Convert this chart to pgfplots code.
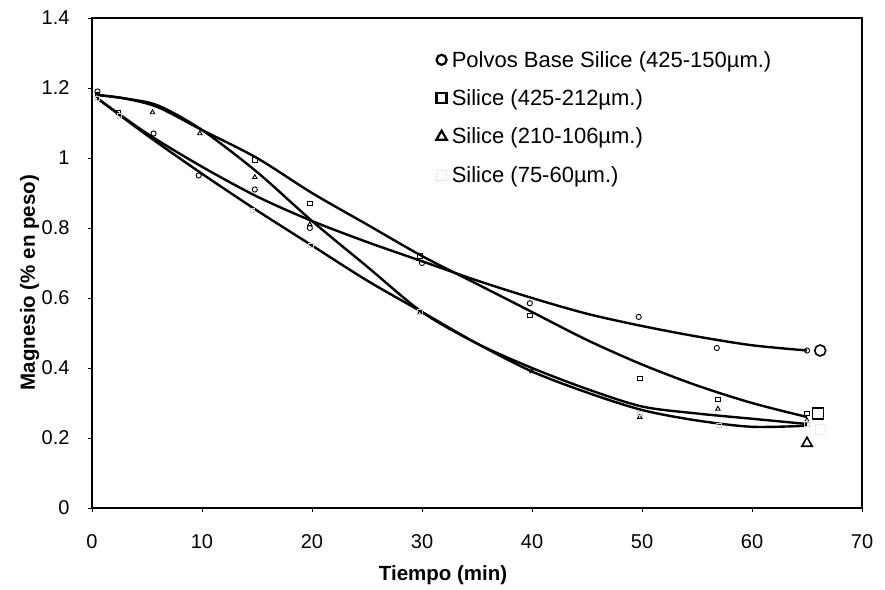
\documentclass[border=0pt]{standalone}
\usepackage{fontspec}
\setmainfont{Liberation Sans}
\usepackage{pgfplots}
\pgfplotsset{compat=1.18}
\begin{document}
\begin{tikzpicture}[x=1pt,y=1pt]
\useasboundingbox (0,0) rectangle (885,589);
\begin{axis}[
    at={(92pt,81pt)}, anchor=south west,
    scale only axis, width=770pt, height=490pt,
    xmin=0, xmax=70, ymin=0, ymax=1.4,
    xtick={0,10,20,30,40,50,60,70},
    ytick={0,0.2,0.4,0.6,0.8,1,1.2,1.4},
    axis line style={line width=1.1pt},
    tick align=outside, major tick length=4pt,
    tick style={line width=0.8pt, black},
    xtick pos=bottom, ytick pos=left,
    /pgf/number format/assume math mode=true,
    tick label style={font=\fontsize{20}{20}\selectfont},
    xticklabel style={yshift=-19pt},
    yticklabel style={xshift=-15pt},
    xlabel={\textbf{Tiempo (min)}},
    ylabel={\textbf{Magnesio (\% en peso)}},
    label style={font=\fontsize{20.5}{20.5}\selectfont},
    xlabel style={at={(axis description cs:0.456,-0.137)}, anchor=center},
    ylabel style={at={(axis description cs:-0.081,0.46)}, anchor=center},
    legend style={draw=none, fill=none, at={(axis description cs:0.447,0.937)}, anchor=north west,
        font=\fontsize{22}{22}\selectfont, row sep=17pt, inner sep=0pt,
        nodes={inner sep=2pt}, column sep=3pt},
    legend image code/.code={\draw[#1] plot coordinates {(0.2cm,0cm)};},
    legend cell align=left,
]
% fitted curves
\addplot[black, line width=2.4pt, smooth, tension=0.5, forget plot] coordinates {
    (0.5,1.17) (5,1.07) (10,0.975) (15,0.89) (20,0.82) (25,0.76) (30,0.705) (35,0.65)
    (40,0.60) (45,0.555) (50,0.52) (55,0.49) (60,0.465) (65,0.45)};
\addplot[black, line width=2.4pt, smooth, tension=0.5, forget plot] coordinates {
    (0.5,1.18) (3,1.17) (6,1.145) (10,1.08) (15,1.0) (20,0.90) (25,0.81) (30,0.72)
    (35,0.64) (40,0.56) (45,0.48) (50,0.41) (55,0.35) (60,0.30) (65,0.26)};
\addplot[black, line width=2.4pt, smooth, tension=0.5, forget plot] coordinates {
    (0.5,1.18) (3,1.17) (6,1.15) (10,1.08) (15,0.96) (20,0.82) (25,0.69) (30,0.56)
    (35,0.47) (40,0.40) (45,0.34) (50,0.29) (55,0.27) (60,0.255) (65,0.24)};
\addplot[black, line width=2.4pt, smooth, tension=0.5, forget plot] coordinates {
    (0.5,1.17) (5,1.065) (10,0.955) (15,0.85) (20,0.75) (25,0.65) (30,0.56) (35,0.47)
    (40,0.39) (45,0.33) (50,0.28) (55,0.25) (60,0.232) (65,0.235)};
% measured points
\addplot[only marks, mark=o, mark size=2.6pt, line width=0.9pt, black, mark options={fill=white}, forget plot] coordinates {
    (0.5,1.19) (5.6,1.07) (9.7,0.95) (14.8,0.91) (19.8,0.80) (30,0.70) (39.8,0.585)
    (49.7,0.546) (56.8,0.457) (65,0.45)};
\addplot[only marks, mark=square, mark size=2.4pt, line width=0.9pt, black, mark options={fill=white}, forget plot] coordinates {
    (0.5,1.18) (2.4,1.13) (14.8,0.994) (19.8,0.87) (29.8,0.72) (39.8,0.55) (49.8,0.37)
    (56.9,0.31) (65,0.27)};
\addplot[only marks, mark=triangle, mark size=2.6pt, line width=0.9pt, black, mark options={fill=white}, forget plot] coordinates {
    (0.5,1.18) (5.5,1.13) (9.8,1.07) (14.8,0.945) (19.8,0.81) (29.8,0.557) (40,0.39)
    (49.8,0.26) (56.9,0.283) (65,0.25)};
\addplot[only marks, mark=square, mark size=2.2pt, line width=0.7pt, gray!40, mark options={fill=white}, forget plot] coordinates {
    (0.5,1.17) (2.5,1.12) (14.6,0.85) (19.9,0.75) (29.8,0.56) (49.8,0.27) (57,0.237) (65,0.24)};
% large end symbols
\addplot[only marks, mark=o, mark size=5.5pt, line width=1.6pt, black, forget plot] coordinates {(66.2,0.45)};
\addplot[only marks, mark=square, mark size=5.5pt, line width=1.6pt, black, mark options={fill=white}, forget plot] coordinates {(66,0.27)};
\addplot[only marks, mark=triangle, mark size=6pt, line width=1.6pt, black, mark options={fill=white}, forget plot] coordinates {(65,0.185)};
\addplot[only marks, mark=square, mark size=5pt, line width=1pt, gray!25, densely dotted, forget plot] coordinates {(66.2,0.225)};
% legend
\addlegendimage{only marks, mark=o, mark size=5pt, line width=2.2pt, black}
\addlegendentry{Polvos Base Silice (425-150µm.)}
\addlegendimage{only marks, mark=square, mark size=5pt, line width=2.2pt, black}
\addlegendentry{Silice (425-212µm.)}
\addlegendimage{only marks, mark=triangle, mark size=6pt, line width=2.2pt, black}
\addlegendentry{Silice (210-106µm.)}
\addlegendimage{only marks, mark=square, mark size=5pt, line width=0.8pt, gray!30, densely dotted}
\addlegendentry{Silice (75-60µm.)}
\end{axis}
\end{tikzpicture}
\end{document}
